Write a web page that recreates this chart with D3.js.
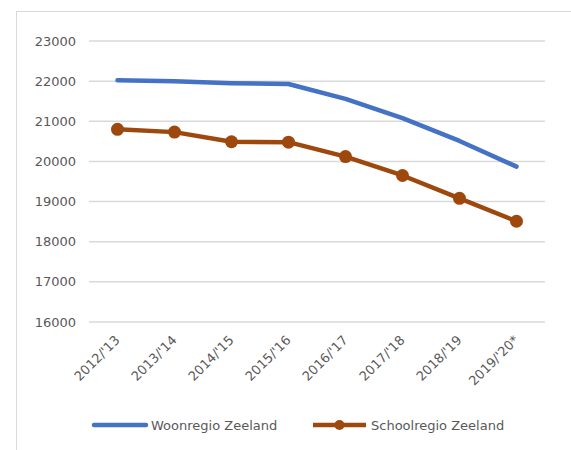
<!DOCTYPE html>
<html>
<head>
<meta charset="utf-8">
<script src="https://cdn.jsdelivr.net/npm/d3@7"></script>
<style>
  body { margin: 0; background: #fff; }
  text { font-family: Verdana, "DejaVu Sans", sans-serif; fill: #595959; }
</style>
</head>
<body>
<div id="chart"></div>
<script>
// chart data
const categories = ["2012/'13", "2013/'14", "2014/'15", "2015/'16", "2016/'17", "2017/'18", "2018/'19", "2019/'20*"];
const woonregio = [22020, 22000, 21950, 21930, 21560, 21080, 20510, 19870];
const schoolregio = [20800, 20730, 20490, 20480, 20120, 19650, 19080, 18510];
const yTicks = [16000, 17000, 18000, 19000, 20000, 21000, 22000, 23000];

const width = 571, height = 450;
const margin = { left: 89, right: 26, top: 41, bottom: 128 };

const svg = d3.select('#chart').append('svg')
    .attr('width', width)
    .attr('height', height);

// chart frame (cut off at right and bottom)
svg.append('rect')
    .attr('x', 16.5).attr('y', 11.5)
    .attr('width', 600).attr('height', 500)
    .attr('fill', 'none')
    .attr('stroke', '#d9d9d9')
    .attr('stroke-width', 1);

const x = d3.scaleBand()
    .domain(categories)
    .range([margin.left, width - margin.right]);

const y = d3.scaleLinear()
    .domain([16000, 23000])
    .range([height - margin.bottom, margin.top]);

// gridlines
svg.append('g')
    .selectAll('line')
    .data(yTicks)
    .enter()
    .append('line')
    .attr('x1', margin.left)
    .attr('x2', width - margin.right)
    .attr('y1', d => y(d))
    .attr('y2', d => y(d))
    .attr('stroke', '#d9d9d9')
    .attr('stroke-width', 1.5);

// y labels
svg.append('g')
    .selectAll('text')
    .data(yTicks)
    .enter()
    .append('text')
    .attr('x', 76)
    .attr('y', d => y(d))
    .attr('dy', '0.35em')
    .attr('text-anchor', 'end')
    .style('font-size', '13px')
    .text(d => d);

// x labels, rotated
svg.append('g')
    .selectAll('text')
    .data(categories)
    .enter()
    .append('text')
    .attr('text-anchor', 'end')
    .attr('transform', d => `translate(${x(d) + x.bandwidth() / 2 + 3},${y(16000) + 19}) rotate(-45)`)
    .style('font-size', '13px')
    .text(d => d);

const cx = d => x(d) + x.bandwidth() / 2;

const line = d3.line()
    .x((d, i) => cx(categories[i]))
    .y(d => y(d));

svg.append('path')
    .datum(woonregio)
    .attr('d', line)
    .attr('fill', 'none')
    .attr('stroke', '#4472c4')
    .attr('stroke-width', 4.5)
    .attr('stroke-linecap', 'round')
    .attr('stroke-linejoin', 'round');

svg.append('path')
    .datum(schoolregio)
    .attr('d', line)
    .attr('fill', 'none')
    .attr('stroke', '#9e480e')
    .attr('stroke-width', 4.5)
    .attr('stroke-linejoin', 'round');

svg.append('g')
    .selectAll('circle')
    .data(schoolregio)
    .enter()
    .append('circle')
    .attr('cx', (d, i) => cx(categories[i]))
    .attr('cy', d => y(d))
    .attr('r', 6.5)
    .attr('fill', '#9e480e');

// legend
const legendY = 425;
svg.append('line')
    .attr('x1', 94).attr('x2', 146)
    .attr('y1', legendY).attr('y2', legendY)
    .attr('stroke', '#4472c4')
    .attr('stroke-width', 4.5)
    .attr('stroke-linecap', 'round');
svg.append('text')
    .attr('x', 151).attr('y', legendY)
    .attr('dy', '0.35em')
    .style('font-size', '13px')
    .text('Woonregio Zeeland');

svg.append('line')
    .attr('x1', 313).attr('x2', 366)
    .attr('y1', legendY).attr('y2', legendY)
    .attr('stroke', '#9e480e')
    .attr('stroke-width', 4.5);
svg.append('circle')
    .attr('cx', 339.5).attr('cy', legendY)
    .attr('r', 5)
    .attr('fill', '#9e480e');
svg.append('text')
    .attr('x', 371).attr('y', legendY)
    .attr('dy', '0.35em')
    .style('font-size', '13px')
    .text('Schoolregio Zeeland');
</script>
</body>
</html>
